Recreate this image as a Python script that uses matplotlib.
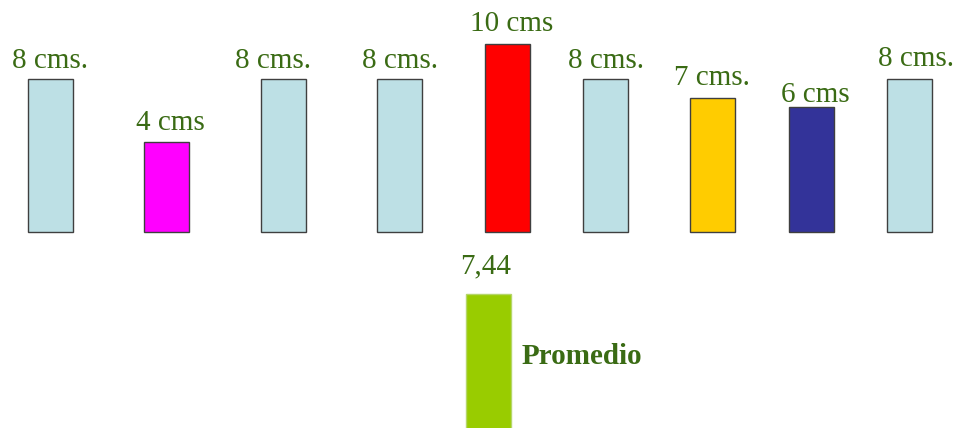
import matplotlib
matplotlib.use("Agg")
import matplotlib.pyplot as plt

# --- data ---
labels = ["8 cms.", "4 cms", "8 cms.", "8 cms.", "10 cms", "8 cms.", "7 cms.", "6 cms", "8 cms."]
heights = [8, 4.69, 8, 8, 9.87, 8, 7.02, 6.55, 8]
colors = ["#bde0e5", "#ff00ff", "#bde0e5", "#bde0e5", "#ff0000",
          "#bde0e5", "#ffcc00", "#333399", "#bde0e5"]
avg_value = 7.44
avg_label = "7,44"
avg_name = "Promedio"

# --- layout (pixel-based, 19.05 px per unit) ---
xpos = [50, 166.7, 283.2, 399.7, 507.2, 605.7, 712.8, 811.2, 909.5]
label_dx = [0, 4, -10, 0, 4, 0, -1, 4, 7]          # px
label_gap = [11, 12, 11, 11, 12.7, 11, 13, 5.3, 13]  # px between bar top and baseline
scale = 19.05
bar_w = 45
avg_x = 488.8
avg_top = -3.29

green = "#3a6b14"
plt.rcParams["font.family"] = ["Liberation Serif", "DejaVu Serif"]

fig = plt.figure(figsize=(9.57, 4.28), dpi=100)
ax = fig.add_axes([0, 0, 1, 1])
ax.set_xlim(0, 957)
ax.set_ylim(-(428 - 231.7) / scale, 231.7 / scale)
ax.axis("off")

ax.bar(xpos, heights, width=bar_w, color=colors, edgecolor="#3f3f3f", linewidth=1)
for x, h, lab, dx, g in zip(xpos, heights, labels, label_dx, label_gap):
    ax.annotate(lab, (x, h), xytext=(dx * 0.72, g * 0.72), textcoords="offset points",
                ha="center", va="baseline", fontsize=21, color=green)

ax.bar([avg_x], [avg_value], bottom=avg_top - avg_value, width=bar_w,
       color="#99cc00", edgecolor="#b5d66a", linewidth=1)
ax.annotate(avg_label, (avg_x, avg_top), xytext=(-3 * 0.72, 21 * 0.72),
            textcoords="offset points", ha="center", va="baseline", fontsize=21, color=green)
ax.annotate(avg_name, (avg_x + bar_w / 2, avg_top), xytext=(10 * 0.72, -62 * 0.72),
            textcoords="offset points", ha="left", va="center", fontsize=21,
            fontweight="bold", color=green)

fig.savefig("out.png", dpi=100)
